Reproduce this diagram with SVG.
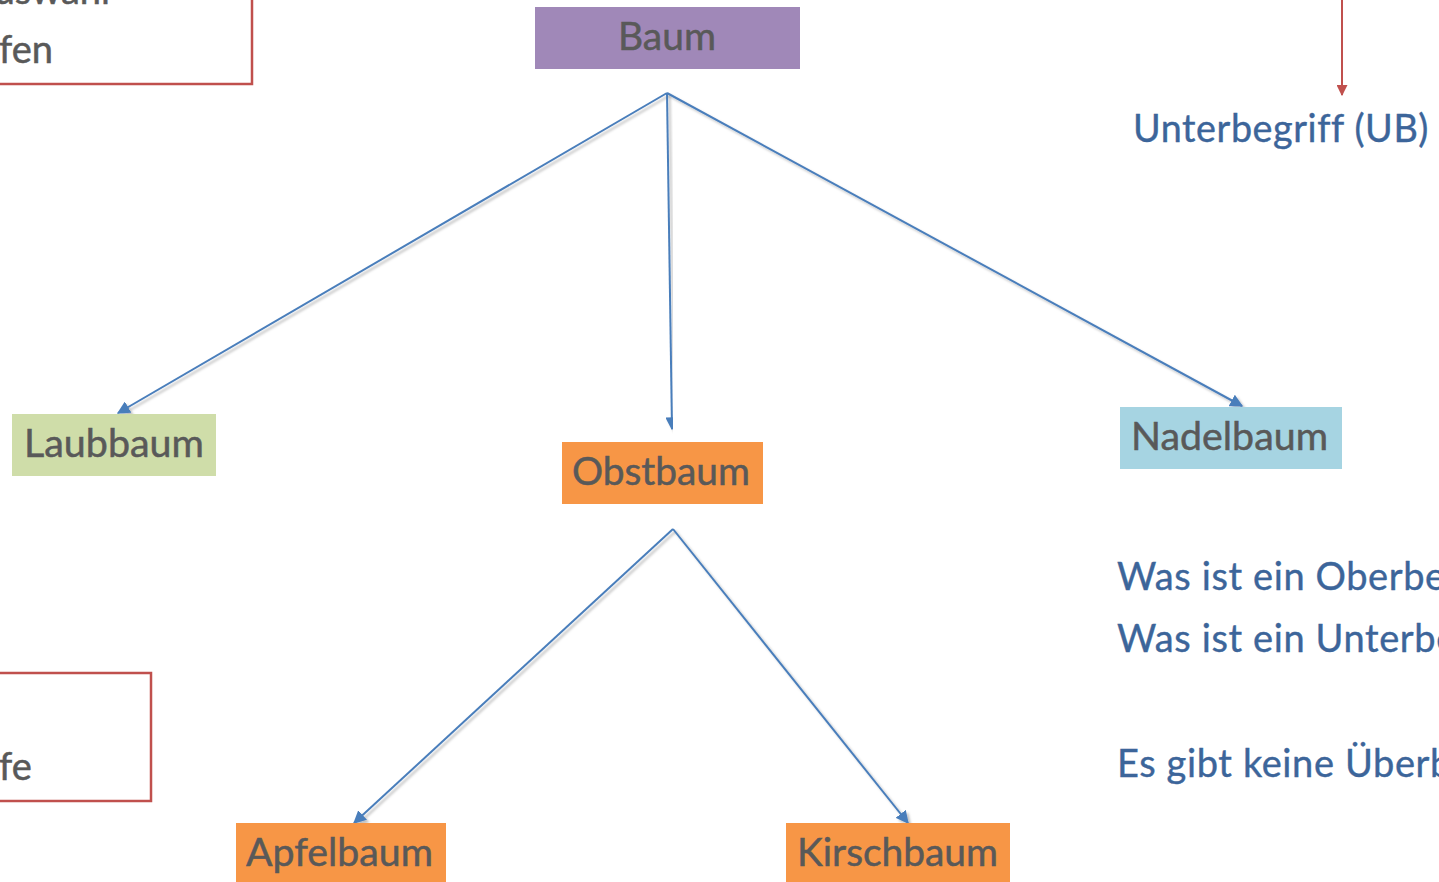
<svg xmlns="http://www.w3.org/2000/svg" width="1439" height="882" viewBox="0 0 1439 882">
  <style>
    .lbl { font-family: Lato, "Open Sans", "Liberation Sans", sans-serif; font-size: 38px; fill: #595959; stroke: #595959; stroke-width: 0.5; }
    .note { font-family: Lato, "Open Sans", "Liberation Sans", sans-serif; font-size: 38px; fill: #3C659A; stroke: #3C659A; stroke-width: 0.4; letter-spacing: 0.6px; }
    .edge { stroke: #4A7EBB; stroke-width: 2; fill: none; marker-end: url(#tip); filter: url(#shade); }
    .frame { fill: none; stroke: #C0504D; stroke-width: 2.5; }
  </style>
  <defs>
    <marker id="tip" viewBox="0 0 10 10" refX="9" refY="5" markerWidth="6.5" markerHeight="6.5" orient="auto" markerUnits="strokeWidth">
      <path d="M0,0 L10,5 L0,10 Z" fill="#4A7EBB"/>
    </marker>
    <marker id="tipRed" viewBox="0 0 10 10" refX="9" refY="5" markerWidth="5.5" markerHeight="5.5" orient="auto" markerUnits="strokeWidth">
      <path d="M0,0 L10,5 L0,10 Z" fill="#C0504D"/>
    </marker>
    <filter id="shade" x="-10%" y="-10%" width="120%" height="120%">
      <feDropShadow dx="2.5" dy="2.5" stdDeviation="1.2" flood-color="#000" flood-opacity="0.25"/>
    </filter>
  </defs>

  <rect width="1439" height="882" fill="#FFFFFF"/>

  <!-- side boxes cut by the left edge -->
  <g id="box-top-left">
    <rect class="frame" x="-10" y="-10" width="262" height="94"/>
    <text class="lbl" x="110" y="4" text-anchor="end">Auswahl</text>
    <text class="lbl" x="-1" y="63">fen</text>
  </g>
  <g id="box-bottom-left">
    <rect class="frame" x="-10" y="673" width="161" height="128"/>
    <text class="lbl" x="-1" y="780">fe</text>
  </g>

  <!-- notes on the right -->
  <g id="notes">
    <line x1="1342" y1="0" x2="1342" y2="95" stroke="#C0504D" stroke-width="2" marker-end="url(#tipRed)"/>
    <text class="note" x="1133" y="142" textLength="296" lengthAdjust="spacingAndGlyphs">Unterbegriff (UB)</text>
    <text class="note" x="1117" y="590">Was ist ein Oberbegriff?</text>
    <text class="note" x="1117" y="652">Was ist ein Unterbegriff?</text>
    <text class="note" x="1117" y="777">Es gibt keine Überbegriffe</text>
  </g>

  <!-- connectors -->
  <g id="connectors">
    <line class="edge" x1="667" y1="93" x2="118" y2="413"/>
    <line class="edge" x1="667" y1="93" x2="672" y2="429"/>
    <line class="edge" x1="667" y1="93" x2="1242" y2="406"/>
    <line class="edge" x1="673" y1="529" x2="354" y2="823"/>
    <line class="edge" x1="673" y1="529" x2="908" y2="823"/>
  </g>

  <!-- nodes -->
  <g id="node-baum">
    <rect x="535" y="7" width="265" height="62" fill="#A088B8"/>
    <text class="lbl" x="667" y="50" text-anchor="middle" textLength="98" lengthAdjust="spacingAndGlyphs">Baum</text>
  </g>
  <g id="node-laubbaum">
    <rect x="12" y="414" width="204" height="62" fill="#CFDDA9"/>
    <text class="lbl" x="24" y="457" textLength="180" lengthAdjust="spacingAndGlyphs">Laubbaum</text>
  </g>
  <g id="node-obstbaum">
    <rect x="562" y="442" width="201" height="62" fill="#F79646"/>
    <text class="lbl" x="572" y="485" textLength="178" lengthAdjust="spacingAndGlyphs">Obstbaum</text>
  </g>
  <g id="node-nadelbaum">
    <rect x="1120" y="407" width="222" height="62" fill="#A6D4E2"/>
    <text class="lbl" x="1131" y="450" textLength="197" lengthAdjust="spacingAndGlyphs">Nadelbaum</text>
  </g>
  <g id="node-apfelbaum">
    <rect x="236" y="823" width="210" height="62" fill="#F79646"/>
    <text class="lbl" x="246" y="866" textLength="187" lengthAdjust="spacingAndGlyphs">Apfelbaum</text>
  </g>
  <g id="node-kirschbaum">
    <rect x="786" y="823" width="224" height="62" fill="#F79646"/>
    <text class="lbl" x="797" y="866" textLength="201" lengthAdjust="spacingAndGlyphs">Kirschbaum</text>
  </g>
</svg>
